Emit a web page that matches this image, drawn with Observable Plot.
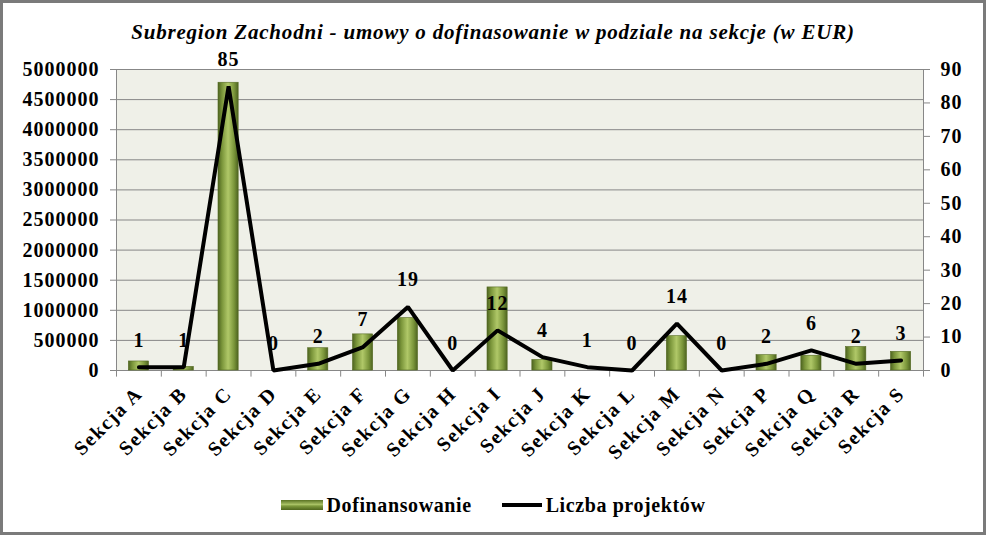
<!DOCTYPE html>
<html><head><meta charset="utf-8">
<script src="https://cdn.jsdelivr.net/npm/d3@7"></script>
<script src="https://cdn.jsdelivr.net/npm/@observablehq/plot@0.6"></script>
<style>
body{margin:0;background:#fff;}
#wrap{position:relative;width:986px;height:535px;overflow:hidden;font-family:"Liberation Serif","Times New Roman",serif;background:#fff;}
#border{position:absolute;left:0;top:0;width:986px;height:535px;box-sizing:border-box;border:3px solid #7a7a7a;pointer-events:none;}
#title{position:absolute;left:0;top:20px;width:986px;height:24px;line-height:24px;text-align:center;font-style:italic;font-weight:bold;font-size:21px;letter-spacing:0.8px;color:#000;white-space:nowrap;}
#chart{position:absolute;left:0;top:50px;width:986px;}
#legend{position:absolute;left:0;top:493px;width:986px;height:24px;display:flex;justify-content:center;align-items:center;gap:30px;font-weight:bold;font-size:20px;letter-spacing:0.6px;color:#000;}
.item{display:flex;align-items:center;gap:4px;}
.sw{width:42px;height:10px;background:linear-gradient(to bottom,#5a7323,#a9c265 45%,#7d9a3c 60%,#4f661d);}
.ln{width:40px;height:4px;background:#000;}
svg text{letter-spacing:1px;}
</style>
</head><body>
<div id="wrap">
  <div id="title">Subregion Zachodni - umowy o dofinasowanie w podziale na sekcje (w EUR)</div>
  <div id="chart"></div>
  <div id="legend">
    <div class="item"><div class="sw"></div><span>Dofinansowanie</span></div>
    <div class="item"><div class="ln"></div><span>Liczba projektów</span></div>
  </div>
  <div id="border"></div>
</div>
<script>
const categories = ["Sekcja A","Sekcja B","Sekcja C","Sekcja D","Sekcja E","Sekcja F","Sekcja G","Sekcja H","Sekcja I","Sekcja J","Sekcja K","Sekcja L","Sekcja M","Sekcja N","Sekcja P","Sekcja Q","Sekcja R","Sekcja S"];
const funding = [150000, 60000, 4780000, 0, 370000, 600000, 870000, 0, 1380000, 175000, 0, 0, 570000, 0, 255000, 245000, 390000, 310000];
const projects = [1, 1, 85, 0, 2, 7, 19, 0, 12, 4, 1, 0, 14, 0, 2, 6, 2, 3];
const leftTicks = [0,500000,1000000,1500000,2000000,2500000,3000000,3500000,4000000,4500000,5000000];
const rightTicks = [0,10,20,30,40,50,60,70,80,90];
const leftMax = 5000000, rightMax = 90;

const k = leftMax / rightMax;
const data = categories.map((c, i) => ({c, f: funding[i], p: projects[i]}));
const width = 986, height = 430, mL = 116, mR = 63;
const step = (width - mL - mR) / categories.length;
const grid = "#878787";

const plot = Plot.plot({
  width, height,
  marginTop: 19, marginBottom: 110, marginLeft: mL, marginRight: mR,
  style: {fontFamily: "'Liberation Serif','Times New Roman',serif", fontSize: "20px", fontWeight: "bold", color: "#000", background: "transparent", overflow: "visible", maxWidth: "none"},
  x: {domain: categories, paddingInner: 0.55, paddingOuter: 0.275, align: 0.5, round: false, label: null},
  y: {domain: [0, leftMax], label: null},
  marks: [
    Plot.frame({fill: "#eff0e8", stroke: grid}),
    Plot.gridY({ticks: leftTicks, stroke: grid, strokeOpacity: 1}),
    Plot.ruleX(categories, {x: d => d, y1: 0, y2: -110000, dx: -step / 2, stroke: grid}),
    Plot.ruleX(categories.slice(-1), {x: d => d, y1: 0, y2: -110000, dx: step / 2, stroke: grid}),
    Plot.barY(data, {x: "c", y: "f", fill: "#8aa546", stroke: "#556b22", strokeWidth: 0.6}),
    Plot.line(data, {x: "c", y: d => d.p * k, stroke: "#000", strokeWidth: 4, strokeLinejoin: "miter"}),
    Plot.text(data, {x: "c", y: d => d.p * k, text: d => String(d.p), dy: -27, fontSize: 20, fontWeight: "bold", fill: "#000"}),
    Plot.axisY({ticks: leftTicks, tickFormat: d => String(d), anchor: "left", tickSize: 6, tickPadding: 11, stroke: grid, label: null}),
    Plot.axisY({ticks: rightTicks.map(v => v * k), tickFormat: d => String(Math.round(d / k)), anchor: "right", tickSize: 6, tickPadding: 11, stroke: grid, label: null}),
    Plot.axisX({tickRotate: -45, tickSize: 0, tickPadding: 20, dx: 0, fontSize: 20, label: null})
  ]
});

const svg = d3.select(plot);
const defs = svg.insert("defs", ":first-child");
const g = defs.append("linearGradient").attr("id", "barGrad").attr("x1", "0").attr("x2", "1").attr("y1", "0").attr("y2", "0");
[["0%","#4d6320"],["20%","#7a953a"],["50%","#b0c868"],["80%","#7a953a"],["100%","#4d6320"]].forEach(([o,c]) => g.append("stop").attr("offset", o).attr("stop-color", c));
svg.selectAll("g[aria-label='bar'] rect").attr("fill", "url(#barGrad)");
svg.selectAll("g[aria-label='x-axis tick label'] text").style("letter-spacing", "1.5px");
document.getElementById("chart").appendChild(plot);
</script>
</body></html>
